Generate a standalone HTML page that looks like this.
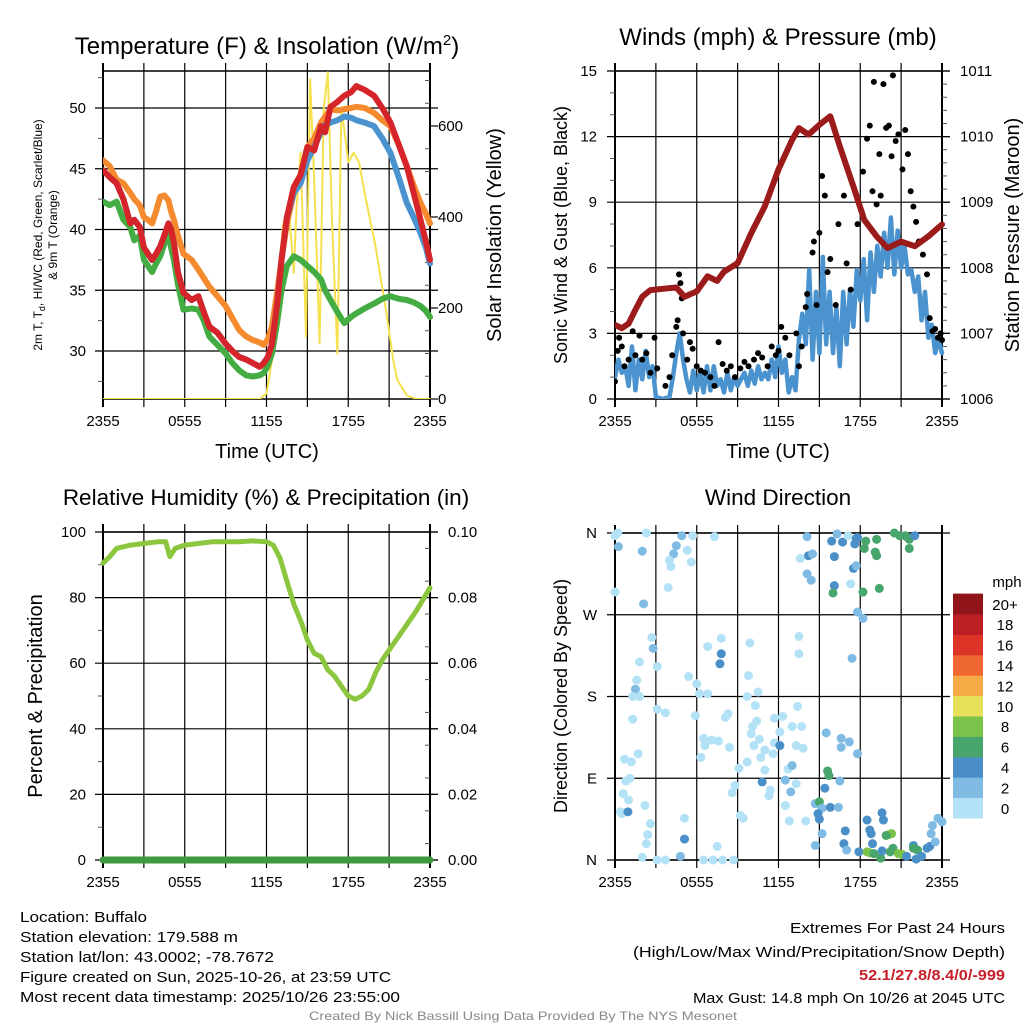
<!DOCTYPE html>
<html><head><meta charset="utf-8">
<style>
html,body{margin:0;padding:0;background:#fff;}
svg{display:block;font-family:"Liberation Sans",sans-serif;}
</style></head>
<body>
<svg id="c" width="1024" height="1024" viewBox="0 0 1024 1024" xmlns="http://www.w3.org/2000/svg"></svg>
<script>
// ---------- DATA ----------
const tempTimes = [0,0.5,1,1.5,2,2.3,2.7,3,3.3,3.6,3.9,4.2,4.5,4.8,5.0,5.2,5.5,5.9,6.5,7,7.4,7.8,8.4,9,9.5,10,10.5,11,11.5,11.8,12.1,12.4,12.8,13.1,13.5,14,14.5,15,15.5,16,16.3,16.7,17.2,17.7,18.2,18.6,19.2,19.9,20.5,21.1,21.7,22.3,22.8,23.3,23.7,24];
const tempRed   = [44.9,44.3,43.8,42.5,40.5,40.8,40.2,38.5,38.0,37.5,38.0,38.6,39.5,40.5,40.0,38.9,36.5,34.8,34.2,34.5,33.2,32.0,31.5,30.6,30.0,29.5,29.3,29.0,28.7,29.0,29.5,30.6,34.0,37.5,41.0,43.5,44.5,46.8,46.5,48.5,48.0,50.1,50.5,51.0,51.3,51.8,51.5,51.0,50.0,48.8,47.0,45.2,43.0,40.8,39.0,37.5];
const tempOrange= [45.7,45.2,44.1,43.8,43.0,42.5,42.0,41.0,40.8,40.5,41.5,42.7,42.8,42.4,41.5,40.8,39.5,38.0,37.5,36.7,36.0,35.3,34.5,33.7,32.7,31.7,31.2,30.9,30.7,30.5,31.0,32.0,35.0,37.5,40.5,43.0,44.5,46.8,47.5,48.8,49.3,49.9,49.8,49.9,50.0,50.1,50.0,49.6,49.0,48.5,47.0,45.2,43.6,42.2,41.3,40.5];
const tempGreen = [42.3,42.0,42.3,40.8,40.2,39.1,39.5,37.5,37.0,36.5,37.2,37.8,38.8,39.7,38.5,37.5,35.5,33.4,33.5,33.4,32.5,31.2,30.5,29.8,29.0,28.4,28.0,27.9,28.0,28.2,28.8,29.8,32.5,35.0,37.0,37.8,37.5,37.0,36.5,35.9,35.0,34.2,33.2,32.3,32.8,33.1,33.5,33.9,34.3,34.5,34.3,34.2,34.0,33.7,33.3,32.8];
const tempBlue  = [44.9,44.3,43.8,42.5,40.5,40.8,40.2,38.5,38.0,37.5,38.0,38.6,39.5,40.5,40.0,38.9,36.5,34.8,34.2,34.5,33.2,32.0,31.5,30.6,30.0,29.5,29.3,29.0,28.7,29.0,29.5,30.6,34.0,37.5,41.0,43.0,43.8,45.7,46.8,48.0,48.6,48.8,49.0,49.3,49.2,49.0,48.8,48.5,47.5,46.3,44.3,42.2,41.0,39.7,38.5,37.2];
const solTimes = [0,11.5,12,12.4,12.8,13.2,13.6,14,14.2,14.5,14.9,15.2,15.5,15.9,16.2,16.5,16.8,17.2,17.5,17.8,18,18.4,18.8,19.2,20,20.8,21.3,21.6,22.3,23,24];
const solar    = [0,0,12,86,233,380,431,277,420,541,137,703,480,123,637,718,400,100,640,571,520,541,520,453,336,189,86,42,8,0,0];

const presTimes = [0,0.5,1,1.5,2,2.6,3.5,4.5,5.1,6,6.8,7.5,8,9,10,11,12,13,13.5,14.2,15,15.8,16.5,17.5,18.3,19.2,20,21,22,23,24];
const pressure  = [1007.13,1007.08,1007.15,1007.36,1007.56,1007.66,1007.68,1007.7,1007.56,1007.64,1007.87,1007.8,1007.94,1008.07,1008.53,1008.94,1009.5,1009.95,1010.13,1010.03,1010.18,1010.31,1009.85,1009.24,1008.73,1008.48,1008.3,1008.4,1008.33,1008.48,1008.66];
const windTimes = [0,0.25,0.5,0.75,1,1.25,1.5,1.75,2,2.25,2.5,2.75,3,3.5,4,4.25,4.5,4.75,5,5.25,5.5,5.75,6,6.25,6.5,6.75,7,7.25,7.5,7.75,8,8.25,8.5,8.75,9,9.25,9.5,9.75,10,10.25,10.5,10.75,11,11.25,11.5,11.75,12,12.25,12.5,12.75,13,13.25,13.5,13.75,14,14.25,14.5,14.75,15,15.25,15.5,15.75,16,16.25,16.5,16.75,17,17.25,17.5,17.75,18,18.25,18.5,18.75,19,19.25,19.5,19.75,20,20.25,20.5,20.75,21,21.25,21.5,21.75,22,22.25,22.5,22.75,23,23.25,23.5,23.75,24];
const windSpd   = [1.0,1.8,1.2,1.5,0.6,2.4,0.4,1.8,0.9,2.2,1.0,1.5,0.1,0,0.1,1.0,2.1,3.0,1.8,0.9,0.3,1.3,0.4,1.2,0.3,1.5,0.4,1.5,0.6,0.9,0.3,1.2,0.4,1.0,0.6,0.9,1.2,0.6,1.3,0.7,1.5,0.9,1.2,0.9,1.8,1.0,2.4,1.2,1.8,0.3,1.0,0.4,2.7,3.9,2.5,5.9,1.8,4.9,2.1,6.5,2.5,4.9,2.1,4.2,1.5,4.9,2.5,5.0,3.3,5.9,4.5,6.4,3.6,6.7,4.9,7.0,5.6,7.6,6.0,8.3,5.7,7.7,6.0,7.0,5.7,5.9,4.9,5.6,3.6,4.9,2.8,3.4,2.1,2.7,2.1];
const gustTimes = [0,0.2,0.3,0.5,0.7,1.0,1.3,1.5,1.8,2.0,2.3,2.6,2.9,3.1,3.7,4.0,4.2,4.5,4.6,4.7,4.8,4.9,5.0,5.3,5.5,5.7,6.0,6.3,6.6,7.0,7.3,7.6,7.9,8.2,8.5,8.8,9.2,9.5,9.8,10.2,10.5,10.8,11.2,11.5,11.8,12.0,12.2,12.5,12.8,13.3,13.5,13.7,14.0,14.1,14.5,14.6,14.8,15.0,15.2,15.4,15.6,15.8,16.2,16.4,16.8,17.0,17.3,17.8,18.2,18.5,18.7,18.9,19.0,19.2,19.4,19.5,19.7,19.9,20.1,20.3,20.4,20.6,20.8,21.1,21.3,21.5,21.7,21.9,22.1,22.3,22.6,22.9,23.1,23.3,23.5,23.7,23.9,24];
const gustSpd   = [0.8,2.2,2.8,2.4,1.5,1.8,3.1,2.0,2.9,1.8,2.1,1.2,2.8,1.4,0.6,1.0,2.0,3.3,3.6,5.7,5.3,4.6,3.0,1.8,2.6,2.3,1.5,1.3,1.2,1.0,0.6,2.6,1.6,1.3,1.5,1.0,1.4,1.7,1.5,1.8,2.1,1.9,1.5,2.4,2.0,2.2,3.3,2.8,2.0,3.0,1.5,2.4,4.2,4.8,6.7,7.2,4.3,7.6,10.2,9.3,5.8,6.4,4.3,8.0,9.3,6.2,5.0,8.0,10.4,11.9,12.5,9.5,14.5,8.9,11.2,9.3,14.4,12.4,12.5,11.1,14.8,11.8,12.1,10.5,12.3,11.2,9.5,8.8,8.1,7.2,6.6,5.7,3.7,3.1,3.2,2.8,3.0,2.7];

const rhTimes = [0,0.5,1,2,3,4,4.6,4.9,5.3,6,7,8,10,11,12,12.5,13,13.5,14,14.6,15,15.5,16,16.5,17,17.5,18,18.5,19,19.5,20,20.5,21,22,23,24];
const rh      = [90.5,92.5,95,96,96.5,97,97,92.5,95,96,96.5,97,97,97.3,97,96,92,85,78,72,67,63,62,58,56,53,50,49,50,52,57,61,64,70,76,83];
const precipTimes = [0,24];
const precip      = [0,0];

const dirTimes = [
 0,0.2,0.25,0,2.3,2.0,2.1,4.9,4.5,4.3,
 4.0,4.1,3.9,5.3,5.6,5.7,7.3,2.7,2.8,3.1,
 1.8,1.6,1.5,1.3,1.8,3.1,3.7,1.3,0.7,1.2,
 1.7,1.1,0.8,0.6,1.0,0.4,0.5,0.95,2.2,2.6,
 2.4,2.3,2.0,3.1,3.7,4.8,5.1,5.1,7.5,6.5,
 7.2,7.9,8.7,5.4,6.0,6.2,6.8,5.9,6.8,7.8,
 7.8,7.7,8.3,8.1,6.5,7.1,7.6,6.6,6.3,8.4,
 9.7,9.1,8.8,8.6,9.2,9.4,9.9,9.8,10.5,9.7,
 10.3,10.4,10.1,10.0,10.6,10.2,11.0,10.7,11.7,12.1,
 11.7,12.3,12.1,11.6,11.0,10.8,11.4,11.3,12.5,12.7,
 13.0,13.3,12.9,12.5,12.8,14.0,13.0,13.3,13.7,13.4,
 13.8,13.5,13.5,17.4,15.5,16.6,16.6,17.2,17.8,17.8,
 18.2,14.7,15.0,15.4,15.6,15.7,15.2,15.8,16.4,16.5,
 14.9,15.0,15.2,14.7,16.9,16.8,17.0,17.9,18.5,18.7,
 18.8,18.9,19.6,19.7,20.1,20.3,19.9,18.5,18.7,19.0,
 19.5,19.6,20.4,20.2,20.8,21.1,21.4,21.9,21.9,22.2,
 22.5,22.1,22.9,23.1,23.5,23.2,23.3,23.7,24.0,14.1,
 14.2,14.5,13.6,14.1,14.4,15.9,16.3,16.1,16.7,17.1,
 17.7,17.6,17.8,17.5,17.7,17.3,16.1,16.0,18.2,19.4,
 18.4,19.2,18.3,19.1,19.2,20.5,20.9,21.4,21.6,22.0,
 21.6,21.3];
const dirDeg = [
 357,360,345,295,360,340,282,357,346,337,
 330,323,300,341,328,357,356,245,233,213,
 218,198,188,180,180,166,162,155,111,108,
 117,90,87,73,66,53,51,53,60,40,
 28,18,3,0,0,4,23,46,15,0,
 0,0,0,202,194,183,183,159,235,244,
 227,216,161,157,134,132,131,126,113,124,
 108,101,82,74,49,46,239,203,185,180,
 170,153,147,139,133,126,121,113,129,126,
 156,158,141,117,99,86,77,71,88,100,
 104,84,75,60,43,43,147,126,147,169,
 123,227,246,222,140,134,124,130,117,273,
 266,62,64,79,98,93,57,58,58,87,
 51,45,29,16,32,18,11,9,44,33,
 29,18,52,44,28,29,27,9,8,7,
 2,10,13,9,7,6,4,16,13,11,
 4,1,13,15,20,29,38,46,42,356,
 335,337,332,315,308,351,359,334,350,357,
 354,348,355,321,324,304,302,294,295,299,
 351,353,343,339,335,360,357,356,353,357,
 343,357];
const dirSpd = [
 1,1,3,1,1,3,3,3,3,3,
 1,1,1,1,1,1,1,1,3,1,
 1,1,3,1,1,1,1,1,1,1,
 1,1,1,1,1,1,1,5,1,1,
 1,1,1,1,1,3,5,1,1,1,
 1,1,1,1,1,1,1,1,1,1,
 5,5,1,1,1,1,1,1,1,1,
 1,1,1,1,1,1,1,1,1,1,
 1,1,1,1,1,1,1,1,1,5,
 1,1,1,1,1,5,1,1,3,1,
 3,1,3,1,1,1,1,1,1,1,
 1,1,1,3,3,3,3,3,3,3,
 3,3,7,5,7,7,3,5,3,3,
 5,5,3,3,5,5,3,5,5,5,
 5,5,5,5,9,9,7,9,9,7,
 7,5,7,7,9,9,5,5,7,7,
 5,5,5,5,3,3,3,3,3,3,
 5,3,1,3,3,5,3,5,5,1,
 5,5,5,5,3,1,5,7,7,7,
 7,7,7,7,7,7,7,7,7,5,
 7,7];

const legendLabels = ["0","2","4","6","8","10","12","14","16","18","20+"];
const legendColors = ["#b3e2f7","#7fbbe3","#4a8fc8","#48a56b","#7bc24a","#e6e05a","#f6aa45","#ee6630","#dc3528","#bd1e24","#911518"];

// ---------- HELPERS ----------
const NS="http://www.w3.org/2000/svg";
const svg=document.getElementById('c');
function mk(tag,attrs,parent){const e=document.createElementNS(NS,tag);for(const k in attrs)e.setAttribute(k,attrs[k]);(parent||svg).appendChild(e);return e;}
function txt(s,attrs,parent){const e=mk('text',attrs,parent);e.textContent=s;return e;}
function linScale(d0,d1,r0,r1){return v=>r0+(v-d0)/(d1-d0)*(r1-r0);}
function drawLine(xs,ys,sx,sy,color,w,name,parent){
  let d='';for(let i=0;i<xs.length;i++){d+=(i?'L':'M')+sx(xs[i]).toFixed(1)+','+sy(ys[i]).toFixed(1);}
  const p=mk('path',{d:d,fill:'none',stroke:color,'stroke-width':w,'stroke-linejoin':'round','stroke-linecap':'round'},parent);
  
  
  return p;
}
const xTickVals=[0,6,12,18,24];
const xTickLabels=["2355","0555","1155","1755","2355"];
function panelFrame(L,R,T,B,name){
  const g=mk('g',{});
  
  
  const sx=linScale(0,24,L,R);
  for(let h=3;h<24;h+=3){mk('line',{x1:sx(h),x2:sx(h),y1:T-8,y2:B+8,stroke:'#000','stroke-width':1.2},g);}
  mk('line',{x1:L,x2:L,y1:T-8,y2:B+8,stroke:'#000','stroke-width':2},g);
  mk('line',{x1:R,x2:R,y1:T-8,y2:B+8,stroke:'#000','stroke-width':2},g);
  mk('line',{x1:L,x2:R,y1:T,y2:T,stroke:'#000','stroke-width':1.5},g);
  mk('line',{x1:L,x2:R,y1:B,y2:B,stroke:'#000','stroke-width':1.5},g);
  xTickVals.forEach((v,i)=>{const t=txt(xTickLabels[i],{x:sx(v),y:B+27,'font-size':15,'text-anchor':'middle'},g);
    });
  return {g,sx};
}
function hGrid(g,L,R,ys){ys.forEach(y=>mk('line',{x1:L-8,x2:R+8,y1:y,y2:y,stroke:'#000','stroke-width':1.2},g));}
function minorTicks(g,x,ys,dir){ys.forEach(y=>mk('line',{x1:x,x2:x+dir*5,y1:y,y2:y,stroke:'#555','stroke-width':1},g));}

// ---------- PANEL 1 ----------
(function(){
  const L=103,R=430,T=71,B=399;
  const f=panelFrame(L,R,T,B,'temperature-panel');const g=f.g,sx=f.sx;
  const sy=linScale(30,50,351,108);
  const sr=linScale(0,600,399,126);
  const tv=[30,35,40,45,50];
  hGrid(g,L,R,tv.map(sy));
  minorTicks(g,L,[27.5,32.5,37.5,42.5,47.5,52.5].map(sy),-1);
  minorTicks(g,R,[50,100,150,250,300,350,450,500,550,650,700].map(sr),-1);
  tv.forEach(v=>{const t=txt(String(v),{x:86,y:sy(v)+5,'font-size':15,'text-anchor':'end'},g);});
  [0,200,400,600].forEach(v=>{mk('line',{x1:R,x2:R+8,y1:sr(v),y2:sr(v),stroke:'#000','stroke-width':1.2},g);const t=txt(String(v),{x:438,y:sr(v)+5,'font-size':15},g);});
  const cl=mk('clipPath',{id:'cp1'});mk('rect',{x:L,y:T-4,width:R-L+4,height:B-T+4},cl);
  const pg=mk('g',{'clip-path':'url(#cp1)'},g);
  drawLine(solTimes,solar,sx,sr,'#f6e04d',2,'solar-insolation-line',pg);
  drawLine(tempTimes,tempOrange,sx,sy,'#f58a2e',6,'9m-temperature-line',pg);
  drawLine(tempTimes,tempBlue,sx,sy,'#4a93cf',6,'heat-index-wind-chill-line',pg);
  drawLine(tempTimes,tempGreen,sx,sy,'#43ad43',6,'dewpoint-line',pg);
  drawLine(tempTimes,tempRed,sx,sy,'#d6252a',6,'2m-temperature-line',pg);
  const t1=txt('',{x:267,y:54,'font-size':24,'text-anchor':'middle'},svg);
  t1.innerHTML='Temperature (F) &amp; Insolation (W/m<tspan dy="-9" font-size="15">2</tspan><tspan dy="9">)</tspan>';
  
  const a=txt('',{transform:'translate(42,235) rotate(-90)','font-size':12,'text-anchor':'middle'},svg);
  a.innerHTML='2m T, T<tspan dy="3" font-size="9">d</tspan><tspan dy="-3">, HI/WC (Red, Green, Scarlet/Blue)</tspan>';
  
  const a2=txt('& 9m T (Orange)',{transform:'translate(57,235) rotate(-90)','font-size':12,'text-anchor':'middle'},svg);
  
  const a3=txt('Solar Insolation (Yellow)',{transform:'translate(501,235) rotate(-90)','font-size':20,'text-anchor':'middle'},svg);
  
  const a4=txt('Time (UTC)',{x:267,y:458,'font-size':20,'text-anchor':'middle'},svg);
  
})();

// ---------- PANEL 2 ----------
(function(){
  const L=615,R=942,T=71,B=399;
  const f=panelFrame(L,R,T,B,'wind-pressure-panel');const g=f.g,sx=f.sx;
  const sy=linScale(0,15,399,71);
  const sp=linScale(1006,1011,399,71);
  const tv=[0,3,6,9,12,15];
  hGrid(g,L,R,tv.map(sy));
  minorTicks(g,L,[1,2,4,5,7,8,10,11,13,14].map(sy),-1);
  const pm=[];for(let v=1006.2;v<1011;v+=0.2){if(Math.abs(v-Math.round(v))>0.05)pm.push(v);}
  minorTicks(g,R,pm.map(sp),1);
  tv.forEach(v=>{const t=txt(String(v),{x:597,y:sy(v)+5,'font-size':15,'text-anchor':'end'},g);});
  [1006,1007,1008,1009,1010,1011].forEach(v=>{mk('line',{x1:R,x2:R+8,y1:sp(v),y2:sp(v),stroke:'#000','stroke-width':1.2},g);const t=txt(String(v),{x:960,y:sp(v)+5,'font-size':15},g);});
  const cl=mk('clipPath',{id:'cp2'});mk('rect',{x:L,y:T-4,width:R-L+4,height:B-T+4},cl);
  const pg=mk('g',{'clip-path':'url(#cp2)'},g);
  drawLine(windTimes,windSpd,sx,sy,'#4a93cf',4.5,'sonic-wind-line',pg);
  gustTimes.forEach((t,i)=>{const c=mk('circle',{cx:sx(t),cy:sy(gustSpd[i]),r:3,fill:'#000'},pg);
    });
  drawLine(presTimes,pressure,sx,sp,'#9b1a1a',6,'pressure-line',pg);
  const t1=txt('Winds (mph) & Pressure (mb)',{x:778,y:45,'font-size':24,'text-anchor':'middle'},svg);
  
  const a=txt('Sonic Wind & Gust (Blue, Black)',{transform:'translate(567,235) rotate(-90)','font-size':18,'text-anchor':'middle'},svg);
  
  const a2=txt('Station Pressure (Maroon)',{transform:'translate(1019,235) rotate(-90)','font-size':20,'text-anchor':'middle'},svg);
  
  const a4=txt('Time (UTC)',{x:778,y:458,'font-size':20,'text-anchor':'middle'},svg);
  
})();

// ---------- PANEL 3 ----------
(function(){
  const L=103,R=430,T=532,B=860;
  const f=panelFrame(L,R,T,B,'humidity-panel');const g=f.g,sx=f.sx;
  const sy=linScale(0,100,860,532);
  const sq=linScale(0,0.1,860,532);
  const tv=[0,20,40,60,80,100];
  hGrid(g,L,R,tv.map(sy));
  minorTicks(g,L,[10,30,50,70,90].map(sy),-1);
  minorTicks(g,R,[0.005,0.015,0.025,0.035,0.045,0.055,0.065,0.075,0.085,0.095].map(sq),-1);
  tv.forEach(v=>{const t=txt(String(v),{x:86,y:sy(v)+5,'font-size':15,'text-anchor':'end'},g);});
  [0,0.02,0.04,0.06,0.08,0.1].forEach(v=>{mk('line',{x1:R,x2:R+8,y1:sq(v),y2:sq(v),stroke:'#000','stroke-width':1.2},g);const t=txt(v.toFixed(2),{x:448,y:sq(v)+5,'font-size':15},g);});
  drawLine(precipTimes,precip,sx,sq,'#3f9a3f',7,'precipitation-line',g);
  drawLine(rhTimes,rh,sx,sy,'#8cc63f',5,'relative-humidity-line',g);
  const t1=txt('Relative Humidity (%) & Precipitation (in)',{x:266,y:505,'font-size':22.5,'text-anchor':'middle'},svg);
  
  const a=txt('Percent & Precipitation',{transform:'translate(42,696) rotate(-90)','font-size':20,'text-anchor':'middle'},svg);
  
})();

// ---------- PANEL 4 ----------
(function(){
  const L=615,R=942,T=533,B=860;
  const f=panelFrame(L,R,T,B,'wind-direction-panel');const g=f.g,sx=f.sx;
  const sy=linScale(0,360,860,533);
  const dv=[0,90,180,270,360],dl=['N','E','S','W','N'];
  hGrid(g,L,R,dv.map(sy));
  dv.forEach((v,i)=>{const t=txt(dl[i],{x:597,y:sy(v)+5,'font-size':15,'text-anchor':'end'},g);});
  const n=Math.min(dirTimes.length,dirDeg.length,dirSpd.length);
  for(let i=0;i<n;i++){const c=mk('circle',{cx:sx(dirTimes[i]),cy:sy(dirDeg[i]),r:4.5,fill:legendColors[Math.min(10,Math.floor(dirSpd[i]/2))]},g);
    
    }
  const lg=mk('g',{});
  
  const h=20.4,x0=953,yb=818;
  legendColors.forEach((c,i)=>{mk('rect',{x:x0,y:yb-(i+1)*h,width:30,height:h+0.5,fill:c},lg);
    const t=txt(legendLabels[i],{x:1005,y:yb-i*h-h/2+6,'font-size':15,'text-anchor':'middle'},lg);
    });
  txt('mph',{x:1007,y:587,'font-size':15,'text-anchor':'middle'},lg);
  const t1=txt('Wind Direction',{x:778,y:505,'font-size':22.5,'text-anchor':'middle'},svg);
  
  const a=txt('Direction (Colored By Speed)',{transform:'translate(567,696) rotate(-90)','font-size':18,'text-anchor':'middle'},svg);
  
})();

// ---------- FOOTER ----------
const leftLines=[["Location: Buffalo",127],["Station elevation: 179.588 m",218],["Station lat/lon: 43.0002; -78.7672",254],["Figure created on Sun, 2025-10-26, at 23:59 UTC",371],["Most recent data timestamp: 2025/10/26 23:55:00",380]];
leftLines.forEach((l,i)=>{const t=txt(l[0],{x:20,y:922+i*20,'font-size':15,textLength:l[1],lengthAdjust:'spacingAndGlyphs'});
  });
const rightLines=[["Extremes For Past 24 Hours",933,215,'#000','normal'],["(High/Low/Max Wind/Precipitation/Snow Depth)",957,372,'#000','normal'],["52.1/27.8/8.4/0/-999",980,146,'#c8202a','bold'],["Max Gust: 14.8 mph On 10/26 at 2045 UTC",1003,312,'#000','normal']];
rightLines.forEach(l=>{const t=txt(l[0],{x:1005-l[2],y:l[1],'font-size':15,fill:l[3],'font-weight':l[4],textLength:l[2],lengthAdjust:'spacingAndGlyphs'});
  });
const cr=txt('Created By Nick Bassill Using Data Provided By The NYS Mesonet',{x:309,y:1020,'font-size':12,fill:'#888',textLength:428,lengthAdjust:'spacingAndGlyphs'});

</script>
</body></html>
